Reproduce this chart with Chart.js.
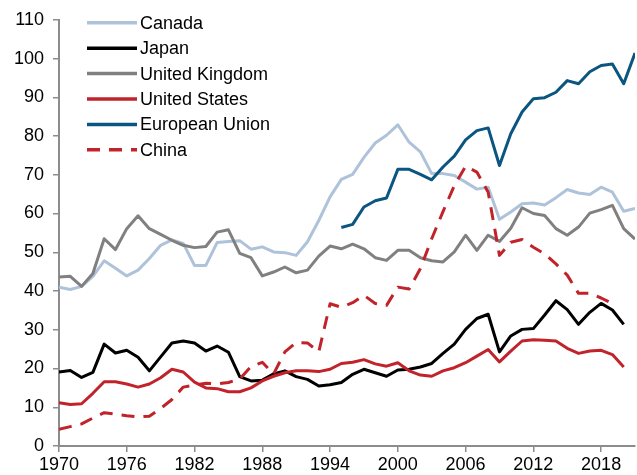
<!DOCTYPE html>
<html>
<head>
<meta charset="utf-8">
<script src="https://cdn.jsdelivr.net/npm/chart.js@4.4.1/dist/chart.umd.min.js"></script>
<style>
  html, body { margin: 0; padding: 0; background: #fff; }
  #wrap { width: 637px; height: 475px; }
</style>
</head>
<body>
<div id="wrap"><canvas id="chart" width="637" height="475"></canvas></div>
<script>
// years 1970..2021
let years = [];
for (let y = 1970; y <= 2021; y++) years.push(y);

let xTicks = [1970, 1976, 1982, 1988, 1994, 2000, 2006, 2012, 2018];

let canada = [
  41.0, 40.4, 41.2, 43.8, 47.8, 45.9, 43.9, 45.4, 48.4, 51.8,
  53.2, 52.3, 46.6, 46.6, 52.5, 52.8, 53.0, 50.8, 51.4, 50.1,
  49.9, 49.2, 52.7, 58.2, 64.3, 68.8, 70.1, 74.5, 78.2, 80.2,
  82.9, 78.4, 75.9, 70.3, 70.3, 69.8, 68.1, 66.3, 66.8, 58.5,
  60.4, 62.5, 62.7, 62.2, 64.1, 66.2, 65.3, 64.9, 66.8, 65.5,
  60.6, 61.3
];
let japan = [
  19.1, 19.5, 17.7, 19.0, 26.3, 24.0, 24.7, 22.9, 19.4, 23.0,
  26.6, 27.1, 26.6, 24.5, 25.8, 24.2, 17.9, 16.8, 17.0, 18.6,
  19.4, 17.9, 17.2, 15.5, 15.8, 16.4, 18.5, 19.8, 18.9, 18.0,
  19.6, 19.8, 20.4, 21.3, 23.9, 26.3, 30.1, 32.9, 34.0, 24.3,
  28.4, 30.1, 30.3, 33.8, 37.5, 35.2, 31.4, 34.5, 36.8, 35.1,
  31.4, null
];
let unitedKingdom = [
  43.6, 43.8, 41.2, 44.5, 53.5, 50.7, 56.1, 59.4, 56.1, 54.6,
  53.1, 51.8, 51.2, 51.5, 55.2, 55.8, 49.7, 48.6, 43.9, 44.9,
  46.2, 44.7, 45.4, 49.0, 51.6, 50.9, 52.1, 50.9, 48.6, 47.9,
  50.5, 50.5, 48.6, 47.8, 47.5, 50.1, 54.4, 50.5, 54.4, 52.8,
  56.2, 61.5, 60.0, 59.5, 56.1, 54.4, 56.5, 60.1, 61.0, 62.1,
  56.1, 53.4
];
let unitedStates = [
  11.2, 10.7, 10.9, 13.6, 16.6, 16.6, 16.0, 15.2, 16.0, 17.6,
  19.8, 19.1, 16.5, 15.0, 14.8, 14.0, 14.0, 15.0, 16.8, 18.0,
  18.9, 19.4, 19.4, 19.2, 19.8, 21.3, 21.6, 22.3, 21.2, 20.6,
  21.5, 19.4, 18.3, 18.0, 19.4, 20.2, 21.5, 23.2, 24.9, 21.7,
  24.5, 27.1, 27.4, 27.3, 27.1, 25.2, 23.9, 24.5, 24.7, 23.6,
  20.4, null
];
let europeanUnion = [
  null, null, null, null, null, null, null, null, null, null,
  null, null, null, null, null, null, null, null, null, null,
  null, null, null, null, null, 56.4, 57.2, 61.7, 63.3, 64.0,
  71.4, 71.4, 70.1, 68.7, 72.0, 74.8, 79.0, 81.4, 82.1, 72.4,
  80.6, 86.2, 89.6, 89.9, 91.3, 94.3, 93.5, 96.6, 98.2, 98.6,
  93.5, 101.4
];
let china = [
  4.3, 5.0, 5.7, 7.2, 8.6, 8.2, 7.8, 7.5, 7.7, 9.7,
  12.0, 15.2, 15.7, 16.2, 16.0, 16.4, 17.3, 20.5, 21.6, 18.6,
  24.3, 26.7, 26.6, 24.3, 36.7, 35.8, 37.0, 38.9, 36.8, 36.3,
  41.0, 40.5, 45.8, 53.5, 60.5, 67.2, 72.2, 70.7, 65.5, 49.2,
  52.6, 53.3, 51.3, 49.6, 47.0, 44.1, 39.4, 39.4, 38.2, 36.8,
  null, null
];

function toPoints(vals) {
  return years.map((yr, i) => ({ x: yr, y: vals[i] }));
}

function makeSeries(label, vals, color, dash, order) {
  return {
    label: label,
    data: toPoints(vals),
    borderColor: color,
    backgroundColor: color,
    borderWidth: 3,
    borderDash: dash,
    borderJoinStyle: "round",
    pointRadius: 0,
    tension: 0,
    spanGaps: false,
    order: order,
  };
}

// legend drawn inside the plot, top left, like the original
const insideLegend = {
  id: "insideLegend",
  afterDatasetsDraw(chart) {
    const ctx = chart.ctx;
    const area = chart.chartArea;
    const x0 = area.left + 28;
    const y0 = area.top + 3;
    ctx.save();
    ctx.font = "18px 'Liberation Sans', Arial, sans-serif";
    ctx.textBaseline = "middle";
    ctx.fillStyle = "#000";
    chart.data.datasets.forEach((ds, i) => {
      let y = y0 + i * 25.4;
      ctx.strokeStyle = ds.borderColor;
      ctx.lineWidth = 3.5;
      ctx.setLineDash(ds.borderDash || []);
      ctx.beginPath();
      ctx.moveTo(x0, y);
      ctx.lineTo(x0 + 50, y);
      ctx.stroke();
      ctx.setLineDash([]);
      ctx.fillText(ds.label, x0 + 53, y + 1);
    });
    ctx.restore();
  },
};

Chart.defaults.font.family = "'Liberation Sans', Arial, sans-serif";
Chart.defaults.font.size = 18;
Chart.defaults.color = "#000";

let chart = new Chart("chart", {
  type: "line",
  data: {
    datasets: [
      makeSeries("Canada", canada, "#aec2da", [], 5),
      makeSeries("Japan", japan, "#000000", [], 4),
      makeSeries("United Kingdom", unitedKingdom, "#808080", [], 3),
      makeSeries("United States", unitedStates, "#c1232b", [], 2),
      makeSeries("European Union", europeanUnion, "#0b5581", [], 1),
      makeSeries("China", china, "#c1232b", [13, 9], 0),
    ],
  },
  options: {
    responsive: false,
    animation: false,
    layout: {
      padding: { top: 19, right: 2, left: 0, bottom: 0 },
    },
    plugins: {
      legend: { display: false },
      tooltip: { enabled: false },
    },
    scales: {
      x: {
        type: "linear",
        min: 1970,
        max: 2021,
        afterBuildTicks: (axis) => {
          axis.ticks = xTicks.map((v) => ({ value: v }));
        },
        afterFit: (axis) => {
          axis.height = 29;
        },
        ticks: {
          padding: 2,
          maxRotation: 0,
          autoSkip: false,
          callback: (value) => String(value),
        },
        grid: {
          drawOnChartArea: false,
          drawTicks: true,
          tickLength: 6,
          color: "#8c8c8c",
          lineWidth: 1.5,
        },
        border: {
          color: "#8c8c8c",
          width: 2,
        },
      },
      y: {
        min: 0,
        max: 110,
        afterFit: (axis) => {
          axis.width = 59;
        },
        ticks: {
          stepSize: 10,
          padding: 9,
        },
        grid: {
          drawOnChartArea: false,
          drawTicks: true,
          tickLength: 6,
          color: "#8c8c8c",
          lineWidth: 1.5,
        },
        border: {
          color: "#8c8c8c",
          width: 2,
        },
      },
    },
  },
  plugins: [insideLegend],
});
</script>
</body>
</html>
